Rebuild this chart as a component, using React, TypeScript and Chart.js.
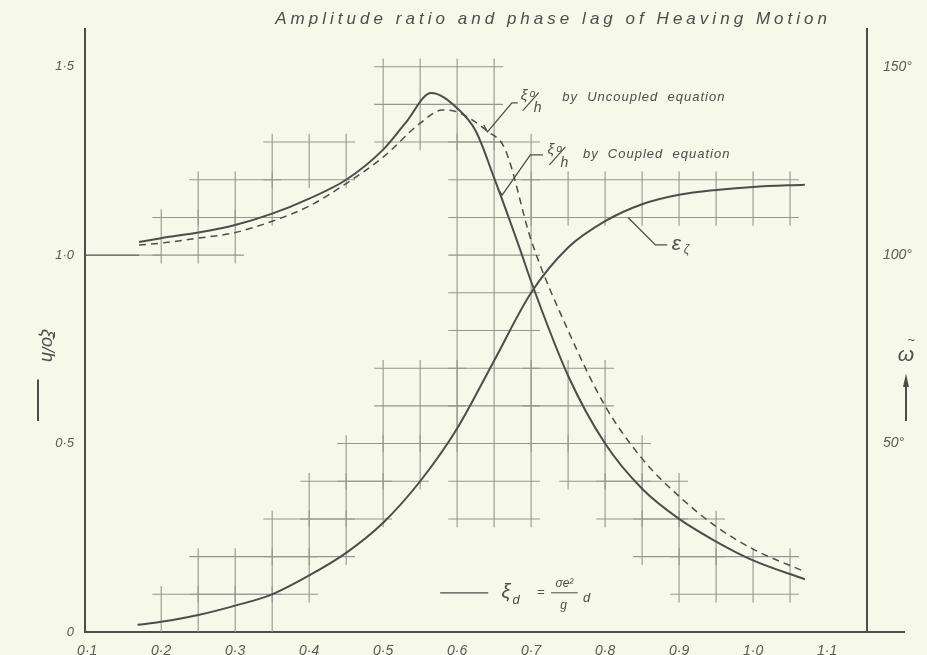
import React, { useEffect, useRef } from 'react';
import { Chart, registerables } from 'chart.js';

Chart.register(...registerables);

const TITLE = 'Amplitude ratio and phase lag of Heaving Motion';

const xTicks = [0.1, 0.2, 0.3, 0.4, 0.5, 0.6, 0.7, 0.8, 0.9, 1.0, 1.1];
const xTickLabels = ['0·1', '0·2', '0·3', '0·4', '0·5', '0·6', '0·7', '0·8', '0·9', '1·0', '1·1'];
const yTicks = [0, 0.5, 1.0, 1.5];
const yTickLabels = ['0', '0·5', '1·0', '1·5'];
const phaseTicks = [50, 100, 150];
const phaseTickLabels = ['50°', '100°', '150°'];

// ξo/h by Coupled equation (solid)
const coupledX = [0.17, 0.2, 0.25, 0.3, 0.35, 0.4, 0.45, 0.5, 0.53, 0.565, 0.6, 0.625, 0.65, 0.686, 0.7, 0.75, 0.8, 0.85, 0.9, 0.95, 1.0, 1.07];
const coupledY = [1.035, 1.045, 1.06, 1.08, 1.11, 1.15, 1.2, 1.28, 1.35, 1.43, 1.39, 1.33, 1.205, 1.01, 0.93, 0.68, 0.5, 0.38, 0.3, 0.24, 0.19, 0.14];

// ξo/h by Uncoupled equation (dashed)
const uncoupledX = [0.17, 0.2, 0.25, 0.3, 0.35, 0.4, 0.45, 0.5, 0.55, 0.58, 0.6, 0.64, 0.665, 0.7, 0.75, 0.8, 0.85, 0.9, 0.95, 1.0, 1.07];
const uncoupledY = [1.027, 1.032, 1.045, 1.06, 1.09, 1.13, 1.19, 1.26, 1.35, 1.385, 1.38, 1.33, 1.28, 1.04, 0.8, 0.6, 0.46, 0.36, 0.28, 0.22, 0.16];

// ε ζ phase lag (degrees, right axis)
const phaseX = [0.168, 0.2, 0.25, 0.3, 0.35, 0.4, 0.45, 0.5, 0.55, 0.6, 0.65, 0.7, 0.75, 0.8, 0.85, 0.9, 0.95, 1.0, 1.07];
const phaseDeg = [1.9, 2.7, 4.5, 7, 10, 15, 21, 29, 40, 54, 72, 90, 102, 109, 113.5, 116, 117.3, 118.1, 118.7];

// unity reference line at left
const unityX = [0.097, 0.17];
const unityY = [1.0, 1.0];

// hand-drawn graph-paper fragments: [x0, x1, y0, y1] in data units (cells 0.05 × 0.1)
const gridBlocks = [
  [0.2, 0.3, 1.0, 1.1],
  [0.25, 0.35, 1.1, 1.2],
  [0.35, 0.45, 1.2, 1.3],
  [0.5, 0.65, 1.3, 1.5],
  [0.6, 0.7, 0.3, 1.3],
  [0.7, 1.05, 1.1, 1.2],
  [0.2, 0.35, 0.0, 0.1],
  [0.25, 0.4, 0.1, 0.2],
  [0.35, 0.45, 0.2, 0.3],
  [0.4, 0.5, 0.3, 0.4],
  [0.45, 0.55, 0.4, 0.5],
  [0.5, 0.6, 0.5, 0.7],
  [0.7, 0.8, 0.5, 0.7],
  [0.75, 0.85, 0.4, 0.5],
  [0.8, 0.9, 0.3, 0.4],
  [0.85, 0.95, 0.2, 0.3],
  [0.9, 1.05, 0.1, 0.2],
];
// single faint grid segments [x0, y0, x1, y1]
const gridSegments = [
  [0.17, 1.0, 0.2, 1.0],
];

const INK = '#4d4d4a';
const LABEL = '#5a5a56';
const GRID = '#94978e';
const PAPER = '#f6f8e9';
const FONT = '"Liberation Sans", Arial, sans-serif';

const toPts = (xs: number[], ys: number[]) => xs.map((x, i) => ({ x, y: ys[i] }));

function drawText(ctx: CanvasRenderingContext2D, text: string, x: number, y: number, font: string, align: CanvasTextAlign = 'left', spacing = 0, color = INK) {
  ctx.save();
  ctx.font = font;
  ctx.fillStyle = color;
  ctx.textAlign = align;
  ctx.textBaseline = 'middle';
  (ctx as any).letterSpacing = spacing + 'px';
  ctx.fillText(text, x, y);
  ctx.restore();
}

const paperPlugin = {
  id: 'paper',
  beforeDraw(chart: any) {
    const { ctx, width, height } = chart;
    ctx.save();
    ctx.fillStyle = PAPER;
    ctx.fillRect(0, 0, width, height);
    ctx.restore();
  },
  beforeDatasetsDraw(chart: any) {
    const { ctx, scales } = chart;
    const xs = scales.x;
    const ys = scales.y;
    ctx.save();
    ctx.strokeStyle = GRID;
    ctx.lineWidth = 1.1;
    const ox = 0.012;
    const oy = 0.022;
    gridBlocks.forEach(([x0, x1, y0, y1]) => {
      const nx = Math.round((x1 - x0) / 0.05);
      const ny = Math.round((y1 - y0) / 0.1);
      for (let i = 0; i <= nx; i++) {
        const v = x0 + i * 0.05;
        const px = xs.getPixelForValue(v);
        ctx.beginPath();
        ctx.moveTo(px, ys.getPixelForValue(Math.max(0, y0 - oy)));
        ctx.lineTo(px, ys.getPixelForValue(y1 + oy));
        ctx.stroke();
      }
      for (let j = 0; j <= ny; j++) {
        const v = y0 + j * 0.1;
        if (v <= 0.001) continue;
        const py = ys.getPixelForValue(v);
        ctx.beginPath();
        ctx.moveTo(xs.getPixelForValue(x0 - ox), py);
        ctx.lineTo(xs.getPixelForValue(x1 + ox), py);
        ctx.stroke();
      }
    });
    gridSegments.forEach(([a, b, c, d]) => {
      ctx.beginPath();
      ctx.moveTo(xs.getPixelForValue(a), ys.getPixelForValue(b));
      ctx.lineTo(xs.getPixelForValue(c), ys.getPixelForValue(d));
      ctx.stroke();
    });
    ctx.restore();
  },
  afterDraw(chart: any) {
    const { ctx, scales, chartArea } = chart;
    const xs = scales.x;
    const ys = scales.y;
    const X = (v: number) => xs.getPixelForValue(v);
    const Y = (v: number) => ys.getPixelForValue(v);
    const italic = (s: number) => `italic ${s}px ${FONT}`;

    // title, stretched between two x positions
    ctx.save();
    ctx.font = italic(17);
    const tw = ctx.measureText(TITLE).width;
    ctx.restore();
    const tx0 = X(0.354);
    const tx1 = X(1.1);
    const sp = (tx1 - tx0 - tw) / (TITLE.length - 1);
    drawText(ctx, TITLE, tx0, 19, italic(17), 'left', sp);

    // leader lines
    ctx.save();
    ctx.strokeStyle = INK;
    ctx.lineWidth = 1.3;
    const poly = (pts: number[][]) => {
      ctx.beginPath();
      pts.forEach(([a, b], i) => (i === 0 ? ctx.moveTo(X(a), Y(b)) : ctx.lineTo(X(a), Y(b))));
      ctx.stroke();
    };
    poly([[0.636, 1.345], [0.641, 1.327], [0.674, 1.404], [0.682, 1.404]]);
    poly([[0.655, 1.175], [0.661, 1.16], [0.699, 1.266], [0.716, 1.266]]);
    poly([[0.831, 1.1], [0.868, 1.027], [0.884, 1.027]]);
    poly([[0.577, 0.104], [0.642, 0.104]]);
    // x axis extension beyond right axis
    ctx.lineWidth = 2;
    ctx.beginPath();
    ctx.moveTo(chartArea.right, chartArea.bottom);
    ctx.lineTo(chartArea.right + 38, chartArea.bottom);
    ctx.stroke();
    ctx.restore();

    // curve labels
    const fracLabel = (x: number, y: number, s: number) => {
      drawText(ctx, 'ξ', X(x), Y(y) - 5, italic(s));
      drawText(ctx, 'o', X(x) + 9, Y(y) - 6, italic(s - 5));
      ctx.save();
      ctx.strokeStyle = INK;
      ctx.lineWidth = 1.2;
      ctx.beginPath();
      ctx.moveTo(X(x) + 2, Y(y) + 10);
      ctx.lineTo(X(x) + 18, Y(y) - 8);
      ctx.stroke();
      ctx.restore();
      drawText(ctx, 'h', X(x) + 13, Y(y) + 8, italic(s - 1));
    };
    fracLabel(0.686, 1.41, 15);
    drawText(ctx, 'by  Uncoupled  equation', X(0.742), Y(1.418), italic(13), 'left', 1);
    fracLabel(0.722, 1.266, 15);
    drawText(ctx, 'by  Coupled  equation', X(0.77), Y(1.266), italic(13), 'left', 1);
    drawText(ctx, 'ε', X(0.89), Y(1.03), italic(21));
    drawText(ctx, 'ζ', X(0.89) + 12, Y(1.03) + 6, italic(12));

    // formula
    drawText(ctx, 'ξ', X(0.66), Y(0.104), italic(20));
    drawText(ctx, 'd', X(0.66) + 11, Y(0.104) + 8, italic(13));
    drawText(ctx, '=', X(0.708), Y(0.104), italic(13));
    drawText(ctx, 'σe²', X(0.745), Y(0.127), italic(12), 'center');
    ctx.save();
    ctx.strokeStyle = INK;
    ctx.lineWidth = 1;
    ctx.beginPath();
    ctx.moveTo(X(0.727), Y(0.104));
    ctx.lineTo(X(0.763), Y(0.104));
    ctx.stroke();
    ctx.restore();
    drawText(ctx, 'g', X(0.744), Y(0.07), italic(12), 'center');
    drawText(ctx, 'd', X(0.77), Y(0.09), italic(13));

    // left axis title (rotated) with marker line
    ctx.save();
    ctx.translate(47, Y(0.76));
    ctx.rotate(Math.PI / 2);
    drawText(ctx, 'ξ̄o/h', 0, 0, italic(18), 'center');
    ctx.restore();
    ctx.save();
    ctx.strokeStyle = INK;
    ctx.lineWidth = 2;
    ctx.beginPath();
    ctx.moveTo(38, Y(0.67));
    ctx.lineTo(38, Y(0.56));
    ctx.stroke();
    ctx.restore();

    // right axis title with up arrow
    const rx = chartArea.right + 39;
    drawText(ctx, 'ω', rx, Y(0.735), italic(21), 'center');
    drawText(ctx, '~', rx + 5, Y(0.775), italic(13), 'center');
    ctx.save();
    ctx.strokeStyle = INK;
    ctx.fillStyle = INK;
    ctx.lineWidth = 2;
    ctx.beginPath();
    ctx.moveTo(rx, Y(0.56));
    ctx.lineTo(rx, Y(0.665));
    ctx.stroke();
    ctx.beginPath();
    ctx.moveTo(rx - 3, Y(0.65));
    ctx.lineTo(rx, Y(0.685));
    ctx.lineTo(rx + 3, Y(0.65));
    ctx.closePath();
    ctx.fill();
    ctx.restore();
  },
};

export default function App() {
  const ref = useRef<HTMLCanvasElement>(null);
  useEffect(() => {
    if (!ref.current) return;
    const italicFont = { family: FONT, style: 'italic' as const, size: 13 };
    const chart = new Chart(ref.current, {
      type: 'line',
      data: {
        datasets: [
          {
            label: 'ξo/h by Coupled equation',
            data: toPts(coupledX, coupledY),
            borderColor: INK,
            borderWidth: 2,
            pointRadius: 0,
            cubicInterpolationMode: 'monotone',
            yAxisID: 'y',
          },
          {
            label: 'ξo/h by Uncoupled equation',
            data: toPts(uncoupledX, uncoupledY),
            borderColor: INK,
            borderWidth: 1.5,
            borderDash: [7, 5],
            pointRadius: 0,
            cubicInterpolationMode: 'monotone',
            yAxisID: 'y',
          },
          {
            label: 'εζ',
            data: toPts(phaseX, phaseDeg),
            borderColor: INK,
            borderWidth: 2,
            pointRadius: 0,
            cubicInterpolationMode: 'monotone',
            yAxisID: 'y2',
          },
          {
            label: 'unity',
            data: toPts(unityX, unityY),
            borderColor: INK,
            borderWidth: 1.3,
            pointRadius: 0,
            yAxisID: 'y',
          },
        ],
      },
      options: {
        animation: false,
        responsive: false,
        layout: { padding: { top: 29, left: 0, right: 0, bottom: 0 } },
        plugins: { legend: { display: false }, tooltip: { enabled: false }, title: { display: false } },
        scales: {
          x: {
            type: 'linear',
            min: 0.097,
            max: 1.154,
            grid: { display: false },
            border: { display: true, color: INK, width: 2 },
            afterBuildTicks: (s: any) => { s.ticks = xTicks.map((v) => ({ value: v })); },
            afterFit: (s: any) => { s.height = 23; },
            ticks: {
              color: LABEL,
              font: { ...italicFont, size: 14 },
              padding: 3,
              maxRotation: 0,
              autoSkip: false,
              callback: (v: any) => { const i = xTicks.findIndex((t) => Math.abs(t - v) < 1e-6); return i >= 0 ? xTickLabels[i] : ''; },
            },
          },
          y: {
            type: 'linear',
            position: 'left',
            min: 0,
            max: 1.6,
            grid: { display: false },
            border: { display: true, color: INK, width: 2 },
            afterBuildTicks: (s: any) => { s.ticks = yTicks.map((v) => ({ value: v })); },
            afterFit: (s: any) => { s.width = 85; },
            ticks: {
              color: LABEL,
              font: { ...italicFont, size: 13 },
              padding: 3,
              callback: (v: any) => { const i = yTicks.findIndex((t) => Math.abs(t - v) < 1e-6); return i >= 0 ? yTickLabels[i] : ''; },
            },
          },
          y2: {
            type: 'linear',
            position: 'right',
            min: 0,
            max: 160,
            grid: { display: false },
            border: { display: true, color: INK, width: 2 },
            afterBuildTicks: (s: any) => { s.ticks = phaseTicks.map((v) => ({ value: v })); },
            afterFit: (s: any) => { s.width = 60; },
            ticks: {
              color: LABEL,
              font: { ...italicFont, size: 14 },
              padding: 8,
              callback: (v: any) => { const i = phaseTicks.findIndex((t) => Math.abs(t - v) < 1e-6); return i >= 0 ? phaseTickLabels[i] : ''; },
            },
          },
        },
      },
      plugins: [paperPlugin],
    });
    return () => chart.destroy();
  }, []);
  return (
    <div style={{ position: 'fixed', left: 0, top: 0, width: 927, height: 655 }}>
      <canvas ref={ref} width={927} height={655} style={{ display: 'block' }} />
    </div>
  );
}
